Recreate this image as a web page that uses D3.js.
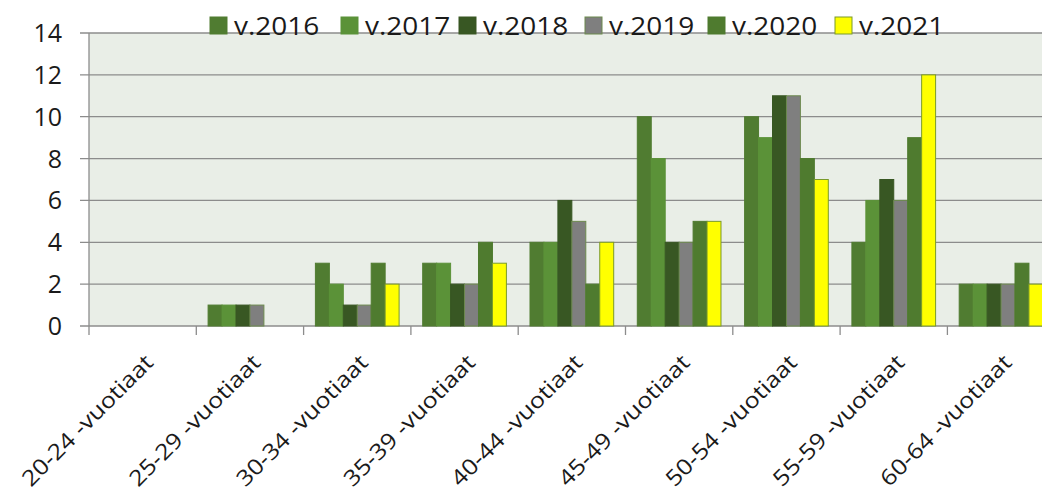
<!DOCTYPE html>
<html>
<head>
<meta charset="utf-8">
<script src="https://cdnjs.cloudflare.com/ajax/libs/d3/7.8.5/d3.min.js"></script>
<style>
  body { margin: 0; background: #fff; }
  svg text { font-family: "Open Sans", "Liberation Sans", sans-serif; fill: #1a1a1a; }
</style>
</head>
<body>
<div id="chart"></div>
<script>
// data
const categories = ['20-24 -vuotiaat', '25-29 -vuotiaat', '30-34 -vuotiaat', '35-39 -vuotiaat',
  '40-44 -vuotiaat', '45-49 -vuotiaat', '50-54 -vuotiaat', '55-59 -vuotiaat', '60-64 -vuotiaat'];
const seriesNames = ['v.2016', 'v.2017', 'v.2018', 'v.2019', 'v.2020', 'v.2021'];
const v2016 = [0, 1, 3, 3, 4, 10, 10, 4, 2];
const v2017 = [0, 1, 2, 3, 4, 8, 9, 6, 2];
const v2018 = [0, 1, 1, 2, 6, 4, 11, 7, 2];
const v2019 = [0, 1, 1, 2, 5, 4, 11, 6, 2];
const v2020 = [0, 0, 3, 4, 2, 5, 8, 9, 3];
const v2021 = [0, 0, 2, 3, 4, 5, 7, 12, 2];
const yTicks = [0, 2, 4, 6, 8, 10, 12, 14];

const seriesValues = [v2016, v2017, v2018, v2019, v2020, v2021];
const colors = ['#507c31', '#5b9238', '#385723', '#7f7f7f', '#4f7b2f', '#ffff00'];
const strokes = ['#507c31', '#5b9238', '#385723', '#6d8a4f', '#4f7b2f', '#7a9a2a'];

// dimensions
const WIDTH = 1042;
const HEIGHT = 493;
const MARGIN_LEFT = 89;
const MARGIN_TOP = 33;
const PLOT_BOTTOM = 326;
const BAND = 107.3;

const $svg = d3.select('#chart').append('svg')
  .attr('width', WIDTH)
  .attr('height', HEIGHT);

// scales
const scaleX = d3.scaleBand()
  .domain(categories)
  .range([MARGIN_LEFT, MARGIN_LEFT + BAND * categories.length])
  .padding(0);
const scaleSeries = d3.scaleBand()
  .domain(seriesNames)
  .range([BAND * 0.11, BAND * 0.89])
  .padding(0);
const scaleY = d3.scaleLinear().domain([0, 14]).range([PLOT_BOTTOM, MARGIN_TOP]);

// plot background
$svg.append('rect')
  .attr('x', MARGIN_LEFT)
  .attr('y', MARGIN_TOP)
  .attr('width', WIDTH - MARGIN_LEFT)
  .attr('height', PLOT_BOTTOM - MARGIN_TOP)
  .attr('fill', '#e9eee7');

// gridlines + y ticks
$svg.append('g').selectAll('line')
  .data(yTicks)
  .join('line')
  .attr('x1', MARGIN_LEFT - 9)
  .attr('x2', WIDTH)
  .attr('y1', d => scaleY(d))
  .attr('y2', d => scaleY(d))
  .attr('stroke', '#8c8c8c')
  .attr('stroke-width', 1.3);

$svg.append('g').selectAll('text')
  .data(yTicks)
  .join('text')
  .attr('x', 62)
  .attr('y', d => scaleY(d))
  .attr('dy', '0.36em')
  .attr('text-anchor', 'end')
  .attr('font-size', 25)
  .text(d => d);

// y axis line
$svg.append('line')
  .attr('x1', MARGIN_LEFT).attr('x2', MARGIN_LEFT)
  .attr('y1', MARGIN_TOP).attr('y2', PLOT_BOTTOM + 9)
  .attr('stroke', '#8c8c8c')
  .attr('stroke-width', 1.3);

// x ticks
$svg.append('g').selectAll('line')
  .data(categories.slice(1))
  .join('line')
  .attr('x1', d => scaleX(d))
  .attr('x2', d => scaleX(d))
  .attr('y1', PLOT_BOTTOM)
  .attr('y2', PLOT_BOTTOM + 9)
  .attr('stroke', '#8c8c8c')
  .attr('stroke-width', 1.3);

// bars
const $groups = $svg.append('g').selectAll('g')
  .data(categories)
  .join('g')
  .attr('transform', d => `translate(${scaleX(d)},0)`);

$groups.selectAll('rect')
  .data((d, i) => seriesNames.map((s, j) => ({ s, j, v: seriesValues[j][i] })))
  .join('rect')
  .filter(d => d.v > 0)
  .attr('x', d => scaleSeries(d.s))
  .attr('y', d => scaleY(d.v))
  .attr('width', scaleSeries.bandwidth())
  .attr('height', d => PLOT_BOTTOM - scaleY(d.v))
  .attr('fill', d => colors[d.j])
  .attr('stroke', d => strokes[d.j])
  .attr('stroke-width', 1);

// x labels (rotated, stretched a bit to match the wide source font)
$svg.append('g').selectAll('text')
  .data(categories)
  .join('text')
  .attr('transform', d => `translate(${scaleX(d) + BAND / 2 + 12},${PLOT_BOTTOM + 38}) rotate(-45) scale(1.14,1)`)
  .attr('text-anchor', 'end')
  .attr('font-size', 22)
  .text(d => d);

// legend
const legendX = [210, 341, 459, 585, 708, 835];
const $legend = $svg.append('g').selectAll('g')
  .data(seriesNames)
  .join('g')
  .attr('transform', (d, i) => `translate(${legendX[i]},17)`);

$legend.append('rect')
  .attr('width', 17)
  .attr('height', 17)
  .attr('fill', (d, i) => colors[i])
  .attr('stroke', (d, i) => strokes[i]);

$legend.append('text')
  .attr('transform', 'translate(24,9) scale(1.12,1)')
  .attr('dy', '0.36em')
  .attr('font-size', 25)
  .text(d => d);
</script>
</body>
</html>
